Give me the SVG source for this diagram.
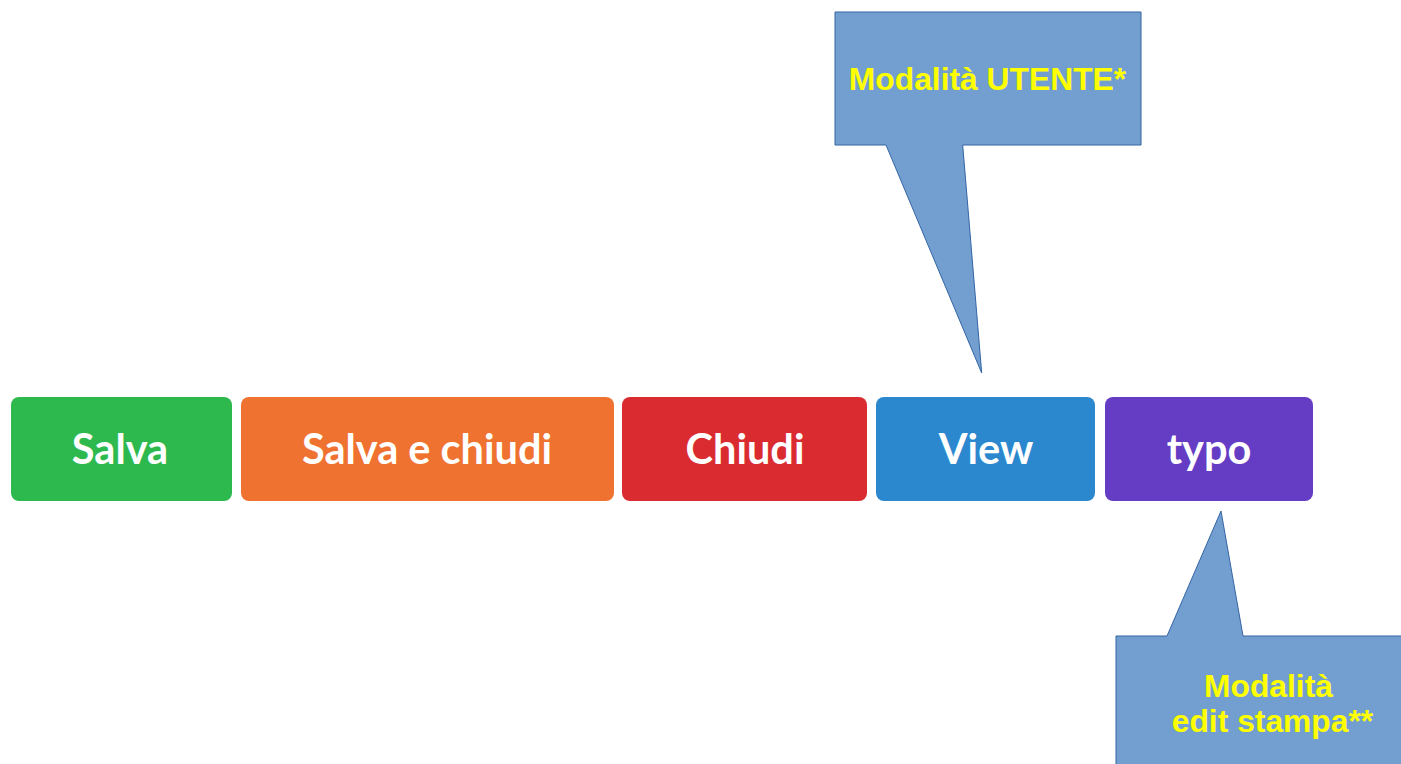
<svg xmlns="http://www.w3.org/2000/svg" width="1401" height="764" viewBox="0 0 1401 764">
<style>
.btn text{font-family:Lato,"Liberation Sans",sans-serif;font-weight:bold;font-size:41.5px;fill:#ffffff;text-anchor:middle}
.call{fill:#729fcf;stroke:#3465a4;stroke-width:1}
.ct{font-family:"Liberation Sans",Arial,sans-serif;font-weight:bold;font-size:31.8px;fill:#ffff00;text-anchor:middle}
</style>
<rect width="1401" height="764" fill="#ffffff"/>
<g id="salva" class="btn"><rect x="11" y="397" width="221" height="104" rx="8" fill="#2eb94f"/><text x="120" y="464">Salva</text></g>
<g id="salva-chiudi" class="btn"><rect x="241" y="397" width="373" height="104" rx="8" fill="#f07230"/><text x="427" y="464">Salva e chiudi</text></g>
<g id="chiudi" class="btn"><rect x="622" y="397" width="245" height="104" rx="8" fill="#da2c30"/><text x="745" y="464">Chiudi</text></g>
<g id="view" class="btn"><rect x="876" y="397" width="219" height="104" rx="8" fill="#2b88cf"/><text x="986" y="464">View</text></g>
<g id="typo" class="btn"><rect x="1105" y="397" width="208" height="104" rx="8" fill="#653dc4"/><text x="1209" y="464">typo</text></g>
<g id="callout-utente">
<path class="call" d="M835,12 H1141 V145 H962.7 L981.7,373 L886,145 H835 Z"/>
<text class="ct" x="987.5" y="90">Modalità UTENTE*</text>
</g>
<g id="callout-stampa">
<path class="call" d="M1116,636 H1167 L1221,511 L1243,636 H1402 V766 H1116 Z"/>
<text class="ct" x="1268.5" y="697">Modalità</text>
<text class="ct" x="1272.5" y="732">edit stampa**</text>
</g>
<g id="connectors"/>
</svg>
